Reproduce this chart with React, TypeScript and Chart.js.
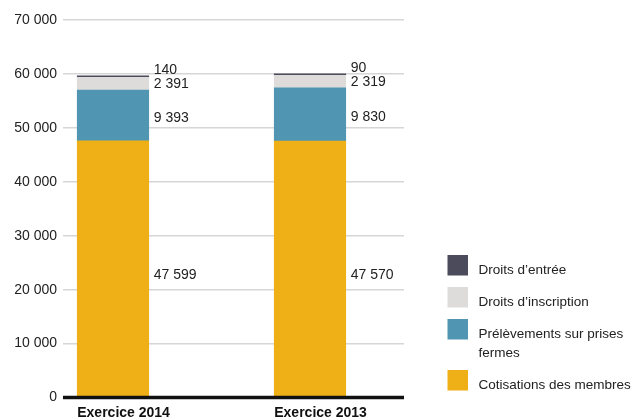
import { useEffect, useRef } from "react";
import { Chart, registerables } from "chart.js";

Chart.register(...registerables);

// Financial years shown on the horizontal axis
const periods = ["Exercice 2014", "Exercice 2013"];

// Revenue components, stacked from the bottom up
const seriesNames = [
  "Cotisations des membres",
  "Prélèvements sur prises fermes",
  "Droits d’inscription",
  "Droits d’entrée",
];
const cotisations = [47599, 47570];
const prelevements = [9393, 9830];
const inscription = [2391, 2319];
const entree = [140, 90];

const seriesValues = [cotisations, prelevements, inscription, entree];
const seriesColors = ["#eeb016", "#5096b2", "#dddcda", "#4c4b5b"];

// Vertical axis ticks
const yTicks = [0, 10000, 20000, 30000, 40000, 50000, 60000, 70000];

const FONT_FAMILY = "'Liberation Sans', Arial, sans-serif";
const FONT = `14px ${FONT_FAMILY}`;
const LEGEND_FONT = `13.5px ${FONT_FAMILY}`;
const TEXT = "#222222";

const fmt = (v: number) =>
  String(v).replace(/\B(?=(\d{3})+(?!\d))/g, "\u00a0");

function wrap(ctx: CanvasRenderingContext2D, text: string, maxWidth: number) {
  const words = text.split(" ");
  const lines: string[] = [];
  let line = "";
  for (const w of words) {
    const test = line ? `${line} ${w}` : w;
    if (line && ctx.measureText(test).width > maxWidth) {
      lines.push(line);
      line = w;
    } else {
      line = test;
    }
  }
  if (line) lines.push(line);
  return lines;
}

// Zero line, value labels beside each bar segment and the legend
const annotate = {
  id: "annotate",
  afterDatasetsDraw(chart: any) {
    const { ctx, chartArea, scales } = chart;
    const yScale = scales.y;
    ctx.save();

    const y0 = yScale.getPixelForValue(0);
    ctx.strokeStyle = "#111111";
    ctx.lineWidth = 3.5;
    ctx.beginPath();
    ctx.moveTo(chartArea.left, y0);
    ctx.lineTo(chartArea.right, y0);
    ctx.stroke();

    ctx.font = FONT;
    ctx.fillStyle = TEXT;
    ctx.textAlign = "left";
    ctx.textBaseline = "alphabetic";
    const capHalf = 5;
    chart.data.datasets.forEach((ds: any, di: number) => {
      const meta = chart.getDatasetMeta(di);
      meta.data.forEach((bar: any, i: number) => {
        const p = bar.getProps(["x", "y", "base", "width"], true);
        const right = p.x + p.width / 2;
        const mid = (p.y + p.base) / 2;
        let cy: number;
        if (di === 3) cy = p.y - 7;
        else if (di === 2) cy = p.y + 5.7;
        else if (di === 1) cy = mid + 2;
        else cy = mid + 5.3;
        ctx.fillText(fmt(ds.data[i].y), right + 5, cy + capHalf);
      });
    });
    ctx.restore();
  },
  afterDraw(chart: any) {
    const { ctx } = chart;
    ctx.save();
    ctx.font = LEGEND_FONT;
    ctx.textAlign = "left";
    ctx.textBaseline = "alphabetic";
    const boxX = 447.5;
    const textX = 478.5;
    const size = 20.5;
    const lineH = 19;
    let top = 255;
    for (let di = chart.data.datasets.length - 1; di >= 0; di--) {
      const ds = chart.data.datasets[di];
      ctx.fillStyle = ds.backgroundColor;
      ctx.fillRect(boxX, top, size, size);
      ctx.fillStyle = TEXT;
      const lines = wrap(ctx, ds.label, 153);
      lines.forEach((l, k) => ctx.fillText(l, textX, top + 19 + k * lineH));
      top += 32 + (lines.length - 1) * lineH;
    }
    ctx.restore();
  },
};

export default function App() {
  const canvasRef = useRef<HTMLCanvasElement | null>(null);

  useEffect(() => {
    const canvas = canvasRef.current;
    if (!canvas) return;
    const chart = new Chart(canvas, {
      type: "bar",
      data: {
        datasets: seriesNames.map((name, si) => ({
          label: name,
          data: seriesValues[si].map((v, i) => ({ x: i, y: v })),
          backgroundColor: seriesColors[si],
          borderWidth: 0,
          barThickness: 71.5,
          minBarLength: si === seriesNames.length - 1 ? 1.5 : 0,
        })),
      },
      options: {
        animation: false,
        responsive: false,
        devicePixelRatio: 1,
        layout: { padding: { top: 20, right: 227, bottom: 0, left: 0 } },
        plugins: {
          legend: { display: false },
          tooltip: { enabled: false },
        },
        scales: {
          x: {
            type: "linear",
            offset: false,
            stacked: true,
            min: -0.2538,
            max: 1.4772,
            grid: { display: false, offset: false, drawTicks: false },
            border: { display: false },
            afterBuildTicks: (axis: any) => {
              axis.ticks = periods.map((_, i) => ({ value: i }));
            },
            afterFit: (axis: any) => {
              axis.height = 21.5;
            },
            ticks: {
              autoSkip: false,
              maxRotation: 0,
              align: "start",
              labelOffset: -35.75,
              padding: 7,
              color: "#111111",
              font: { family: FONT_FAMILY, size: 14, weight: "bold" },
              callback: (v: any) => periods[Number(v)] ?? "",
            },
          },
          y: {
            stacked: true,
            min: 0,
            max: 70000,
            afterBuildTicks: (axis: any) => {
              axis.ticks = yTicks.map((v) => ({ value: v }));
            },
            afterFit: (axis: any) => {
              axis.width = 63;
            },
            grid: {
              drawTicks: false,
              lineWidth: 1.5,
              color: (c: any) =>
                c.tick && c.tick.value === 0 ? "rgba(0,0,0,0)" : "#d6d6d6",
            },
            border: { display: false },
            ticks: {
              padding: 6,
              color: TEXT,
              font: { family: FONT_FAMILY, size: 14 },
              callback: (v: any) => fmt(Number(v)),
            },
          },
        },
      },
      plugins: [annotate],
    });
    return () => chart.destroy();
  }, []);

  return (
    <div style={{ position: "absolute", left: 0, top: 0, width: 631, height: 419, background: "#ffffff" }}>
      <canvas ref={canvasRef} width={631} height={419} />
    </div>
  );
}
